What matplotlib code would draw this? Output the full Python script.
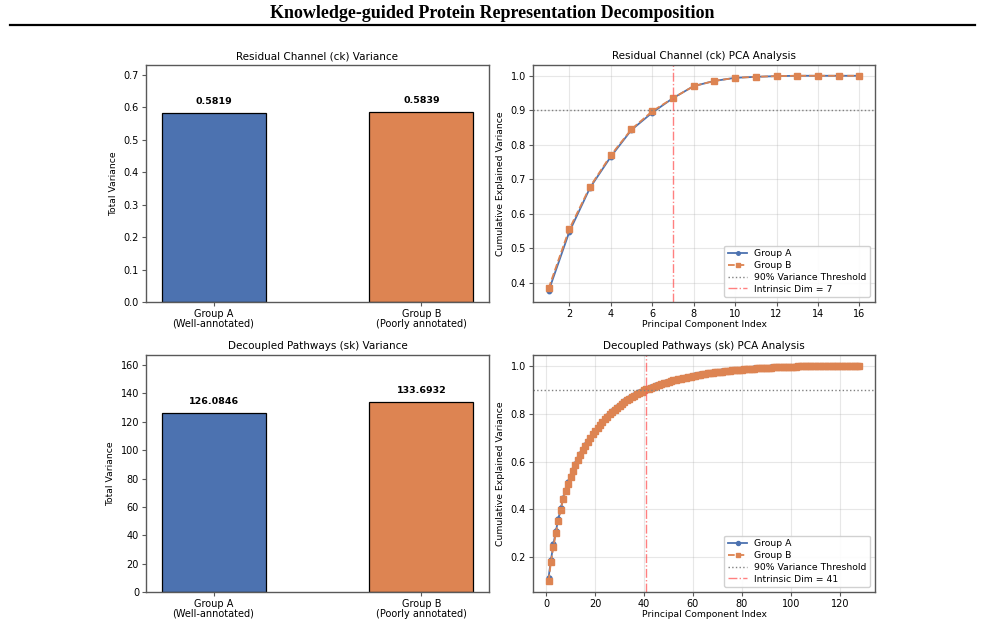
import matplotlib
matplotlib.use("Agg")
import matplotlib.pyplot as plt
from matplotlib.lines import Line2D
import numpy as np

# ---------------- data ----------------
groups = ["Group A\n(Well-annotated)", "Group B\n(Poorly annotated)"]
ck_variance = [0.5819, 0.5839]
sk_variance = [126.0846, 133.6932]

ck_pca_a = [0.375, 0.547, 0.675, 0.765, 0.843, 0.893, 0.935, 0.970, 0.985, 0.994,
            0.997, 0.999, 1.000, 1.000, 1.000, 1.000]
ck_pca_b = [0.383, 0.555, 0.678, 0.769, 0.845, 0.897, 0.935, 0.970, 0.985, 0.994,
            0.997, 0.999, 1.000, 1.000, 1.000, 1.000]
ck_dim = 7

sk_pca_a = [0.115, 0.190, 0.255, 0.310, 0.360, 0.405, 0.447, 0.482, 0.513, 0.541,
            0.566, 0.589, 0.610, 0.630, 0.650, 0.668, 0.684, 0.700, 0.715, 0.729,
            0.742, 0.755, 0.767, 0.778, 0.789, 0.799, 0.809, 0.818, 0.827, 0.835,
            0.843, 0.851, 0.858, 0.865, 0.871, 0.877, 0.883, 0.889, 0.894, 0.898,
            0.902, 0.906, 0.910, 0.914, 0.918, 0.921, 0.925, 0.928, 0.931, 0.934,
            0.937, 0.940, 0.942, 0.945, 0.947, 0.950, 0.952, 0.954, 0.956, 0.958,
            0.960, 0.962, 0.964, 0.965, 0.967, 0.969, 0.970, 0.972, 0.973, 0.974,
            0.976, 0.977, 0.978, 0.979, 0.980, 0.981, 0.982, 0.983, 0.984, 0.985,
            0.986, 0.987, 0.987, 0.988, 0.989, 0.989, 0.990, 0.991, 0.991, 0.992,
            0.992, 0.993, 0.993, 0.994, 0.994, 0.995, 0.995, 0.995, 0.996, 0.996,
            0.996, 0.997, 0.997, 0.997, 0.997, 0.998, 0.998, 0.998, 0.998, 0.998,
            0.999, 0.999, 0.999, 0.999, 0.999, 0.999, 0.999, 0.999, 1.000, 1.000,
            1.000, 1.000, 1.000, 1.000, 1.000, 1.000, 1.000, 1.000]
sk_pca_b = [0.100, 0.182, 0.245, 0.300, 0.352, 0.398, 0.445, 0.478, 0.508, 0.535,
            0.560, 0.585, 0.606, 0.627, 0.647, 0.665, 0.682, 0.698, 0.713, 0.727,
            0.740, 0.753, 0.765, 0.776, 0.787, 0.797, 0.807, 0.816, 0.825, 0.833,
            0.841, 0.849, 0.856, 0.863, 0.869, 0.875, 0.881, 0.887, 0.892, 0.897,
            0.901, 0.905, 0.909, 0.913, 0.917, 0.920, 0.924, 0.927, 0.930, 0.933,
            0.936, 0.939, 0.941, 0.944, 0.946, 0.949, 0.951, 0.953, 0.955, 0.957,
            0.959, 0.961, 0.963, 0.965, 0.966, 0.968, 0.970, 0.971, 0.972, 0.974,
            0.975, 0.976, 0.977, 0.979, 0.980, 0.981, 0.982, 0.983, 0.984, 0.984,
            0.985, 0.986, 0.987, 0.988, 0.988, 0.989, 0.990, 0.990, 0.991, 0.991,
            0.992, 0.992, 0.993, 0.993, 0.994, 0.994, 0.995, 0.995, 0.995, 0.996,
            0.996, 0.996, 0.997, 0.997, 0.997, 0.997, 0.998, 0.998, 0.998, 0.998,
            0.998, 0.999, 0.999, 0.999, 0.999, 0.999, 0.999, 0.999, 0.999, 1.000,
            1.000, 1.000, 1.000, 1.000, 1.000, 1.000, 1.000, 1.000]
sk_dim = 41

titles = ["Residual Channel (ck) Variance", "Residual Channel (ck) PCA Analysis",
          "Decoupled Pathways (sk) Variance", "Decoupled Pathways (sk) PCA Analysis"]
suptitle = "Knowledge-guided Protein Representation Decomposition"

# ---------------- style ----------------
COL_A = "#4C72B0"
COL_B = "#DD8452"
SPINE = "0.35"
FS = 7

W, H = 985, 627
fig = plt.figure(figsize=(W / 100, H / 100), dpi=100)


def px_axes(l, t, r, b):
    return fig.add_axes([l / W, 1 - b / H, (r - l) / W, (b - t) / H])


def style(ax):
    for s in ax.spines.values():
        s.set_color(SPINE)
        s.set_linewidth(1.0)
    ax.tick_params(labelsize=FS, length=3, width=0.8, color=SPINE, pad=2)


def bar_panel(ax, vals, title):
    x = np.arange(len(vals))
    bars = ax.bar(x, vals, width=0.5, color=[COL_A, COL_B], edgecolor="black", linewidth=0.9)
    ax.set_ylim(0, max(vals) * 1.25)
    ax.set_xticks(x)
    ax.set_xticklabels(groups, fontsize=FS, linespacing=1.0)
    ax.set_ylabel("Total Variance", fontsize=FS - 0.3)
    ax.set_title(title, fontsize=FS + 0.5, pad=4)
    for b, v in zip(bars, vals):
        ax.annotate(f"{v:.4f}", (b.get_x() + b.get_width() / 2, b.get_height()),
                    xytext=(0, 5), textcoords="offset points", ha="center", va="bottom",
                    fontsize=FS - 0.2, fontweight="bold")
    style(ax)


def pca_panel(ax, a, b, dim, title, ms):
    n = np.arange(1, len(a) + 1)
    ax.plot(n, a, "-o", color=COL_A, lw=1.3, ms=ms - 0.6, label="Group A")
    ax.plot(n, b, "--s", color=COL_B, lw=1.3, ms=ms, label="Group B")
    ax.axhline(0.9, color="gray", ls=":", lw=1.0, label="90% Variance Threshold")
    ax.axvline(dim, color="#FF5555", ls="-.", lw=1.0, alpha=0.75, label=f"Intrinsic Dim = {dim}")
    ax.set_xlabel("Principal Component Index", fontsize=FS - 0.3, labelpad=1)
    ax.set_ylabel("Cumulative Explained Variance", fontsize=FS - 0.3)
    ax.set_title(title, fontsize=FS + 0.5, pad=4)
    ax.grid(True, alpha=0.3)
    ax.legend(loc="lower right", fontsize=FS - 0.3, framealpha=0.9, borderpad=0.4,
              labelspacing=0.3, handlelength=2.0, markerscale=0.8)
    style(ax)


ax1 = px_axes(146, 65, 489, 302)
ax2 = px_axes(533, 65, 875, 302)
ax3 = px_axes(146, 355, 489, 592)
ax4 = px_axes(533, 355, 875, 592)

bar_panel(ax1, ck_variance, titles[0])
pca_panel(ax2, ck_pca_a, ck_pca_b, ck_dim, titles[1], 3.8)
ax2.set_xticks(np.arange(2, 17, 2))
bar_panel(ax3, sk_variance, titles[2])
pca_panel(ax4, sk_pca_a, sk_pca_b, sk_dim, titles[3], 4.2)

fig.text(0.5, 1 - 14 / H, suptitle, ha="center", va="center",
         fontsize=13, fontweight="bold", family="Liberation Serif")
fig.add_artist(Line2D([10 / W, 975 / W], [1 - 25 / H, 1 - 25 / H], color="black", lw=1.6))

fig.savefig("out.png", dpi=100)
